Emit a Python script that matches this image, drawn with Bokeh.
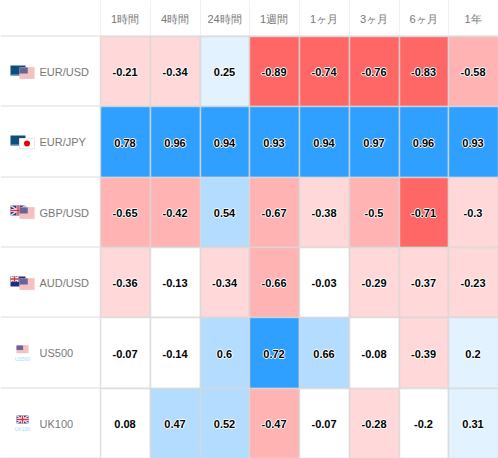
from bokeh.plotting import figure
from bokeh.embed import file_html
from bokeh.resources import INLINE
from bokeh.core.properties import value
from bokeh.models import ColumnDataSource

periods = ["1時間", "4時間", "24時間", "1週間", "1ヶ月", "3ヶ月", "6ヶ月", "1年"]
symbols = ["EUR/USD", "EUR/JPY", "GBP/USD", "AUD/USD", "US500", "UK100"]
eur_usd = [-0.21, -0.34, 0.25, -0.89, -0.74, -0.76, -0.83, -0.58]
eur_jpy = [0.78, 0.96, 0.94, 0.93, 0.94, 0.97, 0.96, 0.93]
gbp_usd = [-0.65, -0.42, 0.54, -0.67, -0.38, -0.5, -0.71, -0.3]
aud_usd = [-0.36, -0.13, -0.34, -0.66, -0.03, -0.29, -0.37, -0.23]
us500 = [-0.07, -0.14, 0.6, 0.72, 0.66, -0.08, -0.39, 0.2]
uk100 = [0.08, 0.47, 0.52, -0.47, -0.07, -0.28, -0.2, 0.31]
rows = [eur_usd, eur_jpy, gbp_usd, aud_usd, us500, uk100]

col_edges = [100, 150, 200, 249, 299, 349, 399, 448, 498]
row_edges = [36, 106, 177, 247, 317, 388, 458]

def color(v):
    if v >= 0.7: return "#2fa0ff"
    if v >= 0.4: return "#b3dcff"
    if v >= 0.2: return "#e3f2ff"
    if v > -0.2 - 1e-9 and v < 0.2: return "#ffffff"
    if v > -0.4: return "#ffd9d9"
    if v > -0.7: return "#ffb3b3"
    return "#ff6666"

p = figure(width=498, height=458, x_range=(0, 498), y_range=(458, 0),
           toolbar_location=None, output_backend="svg", min_border=0,
           outline_line_color=None, background_fill_color="white")
p.axis.visible = False
p.grid.visible = False

# cells
L, R, T, B, C, X, Y, S = [], [], [], [], [], [], [], []
for i, row in enumerate(rows):
    for j, v in enumerate(row):
        L.append(col_edges[j]); R.append(col_edges[j + 1])
        T.append(row_edges[i]); B.append(row_edges[i + 1])
        C.append(color(v))
        X.append((col_edges[j] + col_edges[j + 1]) / 2 - 0.5)
        Y.append((row_edges[i] + row_edges[i + 1]) / 2 + 0.5)
        S.append(str(v))
src = ColumnDataSource(dict(l=L, r=R, t=T, b=B, c=C, x=X, y=Y, s=S))
p.quad(left="l", right="r", top="t", bottom="b", fill_color="c", source=src,
       line_color="#d8d8d8", line_width=1.5, line_alpha=0.8)

# header and row rules
p.segment(x0=[c for c in col_edges[:-1]], y0=[0] * 8, x1=[c for c in col_edges[:-1]], y1=[35] * 8,
          line_color="#f0f0f0", line_width=1)
p.segment(x0=[0] * 7, y0=[r - 0.5 for r in row_edges], x1=[100] * 7, y1=[r - 0.5 for r in row_edges],
          line_color="#dcdcdc", line_width=1)
p.segment(x0=[100], y0=[35.5], x1=[498], y1=[35.5], line_color="#dcdcdc", line_width=1)

# header labels
p.text(x=[(col_edges[j] + col_edges[j + 1]) / 2 - 0.5 for j in range(8)], y=[18] * 8, text=periods,
       text_font=value("Liberation Sans"), text_font_size="11px", text_color="#777777",
       text_align="center", text_baseline="middle")

# row labels
p.text(x=[39] * 6, y=[(row_edges[i] + row_edges[i + 1]) / 2 for i in range(6)], text=symbols,
       text_font=value("Liberation Sans"), text_font_size="11px", text_color="#777777",
       text_align="left", text_baseline="middle")

# values, white halo then black text
for dx, dy in [(-1, 0), (1, 0), (0, -1), (0, 1)]:
    p.text(x="x", y="y", text="s", source=src, x_offset=dx, y_offset=dy,
           text_font=value("Liberation Sans"), text_font_size="11px", text_font_style="bold",
           text_color="#ffffff", text_align="center", text_baseline="middle")
p.text(x="x", y="y", text="s", source=src, text_font=value("Liberation Sans"), text_font_size="11px",
       text_font_style="bold", text_color="#000000", text_align="center", text_baseline="middle")

# flags
def r(x0, y0, x1, y1, c, a=1.0):
    p.quad(left=[x0], right=[x1], top=[y0], bottom=[y1], fill_color=c, line_color=None, fill_alpha=a)

def eu(x, y):
    r(x, y, x + 15, y + 10, "#0d4f7c")
    r(x, y + 9, x + 15, y + 10, "#7fa8c4")

def us(x, y, w=15, h=11):
    r(x, y, x + w, y + h, "#fde8e8")
    for k in range(0, h, 2):
        r(x, y + k, x + w, y + k + 1, "#ec9a9a")
    r(x, y, x + w * 0.55, y + h * 0.55, "#5a5a94", 0.9)

def jp(x, y):
    r(x, y, x + 15, y + 10, "#ffffff")
    p.quad(left=[x], right=[x + 15], top=[y], bottom=[y + 10], fill_color=None, line_color="#e8e8e8")
    p.scatter(x=[x + 7.5], y=[y + 5], size=6, marker="circle", fill_color="#e8000d", line_color=None)

def uk(x, y, w=15, h=10):
    r(x, y, x + w, y + h, "#2f3f80")
    p.segment(x0=[x, x], y0=[y, y + h], x1=[x + w, x + w], y1=[y + h, y], line_color="#f6e4e8", line_width=1.5)
    r(x + w / 2 - 1.5, y, x + w / 2 + 1.5, y + h, "#f8f8f8")
    r(x, y + h / 2 - 1.5, x + w, y + h / 2 + 1.5, "#f8f8f8")
    r(x + w / 2 - 0.7, y, x + w / 2 + 0.7, y + h, "#d83040")
    r(x, y + h / 2 - 0.7, x + w, y + h / 2 + 0.7, "#d83040")

eu(10, 65); us(19, 67)
eu(10, 135); jp(19, 138)
uk(10, 205); us(19, 207)
r(10, 276, 25, 286, "#1f2f80"); uk(10, 276, 8, 5); us(19, 278)

def idx(x, y, lab):
    p.text(x=[x], y=[y], text=[lab], text_font=value("Liberation Sans"), text_font_size="5px",
           text_color="#a5dcf5", text_align="center", text_baseline="middle")

us(16, 345, 12, 8); idx(22, 358, "US500")
uk(16, 415, 12, 8); idx(22, 428, "UK100")

open("out.html", "w").write(file_html(p, INLINE))
